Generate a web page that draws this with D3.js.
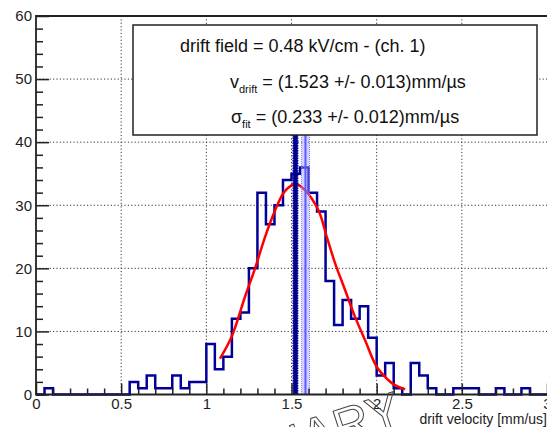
<!DOCTYPE html>
<html>
<head>
<meta charset="utf-8">
<script src="https://cdn.jsdelivr.net/npm/d3@7"></script>
<style>
  body { margin:0; background:#fff; }
  svg { display:block; font-family:"Liberation Sans", Arial, Helvetica, sans-serif; }
</style>
</head>
<body>
<div id="chart"></div>
<script>
// histogram of drift velocities, 0.05 mm/us bins starting at 0
var binStart = 0
var binWidth = 0.05
var counts = [0, 1, 0, 0, 0, 0, 0, 0, 0, 0,
              0, 2, 1, 3, 1, 1, 3, 1, 2, 2,
              8, 4, 6, 12, 13, 20, 32, 27, 30, 34,
              35, 36, 32, 29, 18, 11, 15, 12, 14, 9,
              3, 5, 1, 0, 5, 3, 1, 0, 0, 1,
              1, 1, 0, 0, 1, 0, 0, 1, 0, 0]

// gaussian fit curve as drawn on the plot
var fitX = [1.08, 1.149, 1.227, 1.286, 1.345, 1.404, 1.452, 1.501, 1.523, 1.579,
            1.658, 1.707, 1.756, 1.814, 1.873, 1.932, 2.0, 2.068, 2.1, 2.167]
var fitY = [5.7, 9.2, 15.5, 20.0, 25.0, 29.2, 31.9, 33.2, 33.4, 32.4,
            29.2, 25.0, 20.8, 16.6, 12.3, 8.6, 4.4, 2.3, 1.6, 0.8]

// fitted mean and reference value (with their bands)
var vDrift = 1.523, vDriftErr = 0.013
var vRef = 1.582, vRefErr = 0.024

var xTicks = [0, 0.5, 1, 1.5, 2, 2.5, 3]
var xMinor = d3.range(0, 31).map(d => d / 10)
var yTicks = [0, 10, 20, 30, 40, 50, 60]
var yMinor = d3.range(0, 31).map(d => d * 2)

var legendTitle = 'drift field = 0.48 kV/cm - (ch. 1)'
var legendV = ' = (1.523 +/- 0.013)mm/µs'
var legendS = ' = (0.233 +/- 0.012)mm/µs'
var xTitle = 'drift velocity [mm/us]'
var stamp = 'PRELIMINARY'

var w = 547, h = 427
var x = d3.scaleLinear().domain([0, 3]).range([36, 547])
var y = d3.scaleLinear().domain([0, 60]).range([394.5, 16])

var svg = d3.select('#chart').append('svg')
    .attr('width', w)
    .attr('height', h)

var defs = svg.append('defs')
var pat = defs.append('pattern')
    .attr('id', 'hatch')
    .attr('width', 3).attr('height', 3)
    .attr('patternUnits', 'userSpaceOnUse')
pat.append('rect').attr('width', 3).attr('height', 3).attr('fill', '#000099')
pat.append('rect').attr('x', 1).attr('y', 1).attr('width', 1).attr('height', 1).attr('fill', '#9a9aff')

// dotted grid
var grid = svg.append('g')
    .attr('stroke', '#333')
    .attr('stroke-width', 1)
    .attr('stroke-dasharray', '1.2,2.2')
grid.selectAll('.gy')
    .data(yTicks.filter(d => d > 0 && d < 60))
  .enter().append('line')
    .attr('x1', x(0)).attr('x2', x(3))
    .attr('y1', d => y(d)).attr('y2', d => y(d))
grid.selectAll('.gx')
    .data(xTicks.filter(d => d > 0 && d < 3))
  .enter().append('line')
    .attr('x1', d => x(d)).attr('x2', d => x(d))
    .attr('y1', y(0)).attr('y2', y(60))

// histogram as a step outline
var pts = counts.map((c, i) => [binStart + i * binWidth, c])
pts.push([binStart + counts.length * binWidth, counts[counts.length - 1]])
var step = d3.line()
    .x(d => x(d[0]))
    .y(d => y(d[1]))
    .curve(d3.curveStepAfter)
svg.append('path')
    .datum(pts)
    .attr('fill', 'none')
    .attr('stroke', '#000099')
    .attr('stroke-width', 2.5)
    .attr('d', step)

// fit
var fit = d3.line()
    .x((d, i) => x(fitX[i]))
    .y(d => y(d))
    .curve(d3.curveCatmullRom)
svg.append('path')
    .datum(fitY)
    .attr('fill', 'none')
    .attr('stroke', '#ff0000')
    .attr('stroke-width', 2.5)
    .attr('d', fit)

// legend box position (the vertical bands stop under it)
var box = { x:133, y:25, w:404, h:110 }

// reference band (light blue)
svg.append('rect')
    .attr('x', x(vRef - vRefErr))
    .attr('width', x(vRef + vRefErr) - x(vRef - vRefErr))
    .attr('y', box.y + box.h)
    .attr('height', y(0) - box.y - box.h)
    .attr('fill', '#9c9cff')
    .attr('fill-opacity', 0.45)
svg.selectAll('.refEdge')
    .data([vRef - vRefErr, vRef + vRefErr])
  .enter().append('line')
    .attr('x1', d => x(d)).attr('x2', d => x(d))
    .attr('y1', box.y + box.h).attr('y2', y(0))
    .attr('stroke', '#8080ff')
    .attr('stroke-width', 1)
    .attr('stroke-dasharray', '1,1')
svg.append('line')
    .attr('x1', x(vRef)).attr('x2', x(vRef))
    .attr('y1', box.y + box.h).attr('y2', y(0))
    .attr('stroke', '#5a5aff')
    .attr('stroke-width', 2)

// measured value band (dark blue)
svg.append('rect')
    .attr('x', x(vDrift - vDriftErr))
    .attr('width', x(vDrift + vDriftErr) - x(vDrift - vDriftErr))
    .attr('y', box.y + box.h)
    .attr('height', y(0) - box.y - box.h)
    .attr('fill', 'url(#hatch)')
svg.selectAll('.vEdge')
    .data([vDrift - vDriftErr, vDrift + vDriftErr])
  .enter().append('line')
    .attr('x1', d => x(d)).attr('x2', d => x(d))
    .attr('y1', box.y + box.h).attr('y2', y(0))
    .attr('stroke', '#000099')
    .attr('stroke-width', 1.5)
    .attr('stroke-dasharray', '1.5,1')
svg.append('line')
    .attr('x1', x(vDrift)).attr('x2', x(vDrift))
    .attr('y1', box.y + box.h).attr('y2', y(0))
    .attr('stroke', '#000080')
    .attr('stroke-width', 2)

// legend
svg.append('rect')
    .attr('x', box.x).attr('y', box.y)
    .attr('width', box.w).attr('height', box.h)
    .attr('fill', '#fff')
    .attr('stroke', '#222')
    .attr('stroke-width', 1.5)

var lg = svg.append('g').attr('fill', '#111').style('font-size', '18px')
lg.append('text').attr('x', 180).attr('y', 52).text(legendTitle)
var t2 = lg.append('text').attr('x', 230).attr('y', 88)
t2.append('tspan').text('v')
t2.append('tspan').attr('dy', 5).style('font-size', '11px').text('drift')
t2.append('tspan').attr('dy', -5).text(legendV)
var t3 = lg.append('text').attr('x', 231).attr('y', 123)
t3.append('tspan').text('σ')
t3.append('tspan').attr('dy', 5).style('font-size', '11px').text('fit')
t3.append('tspan').attr('dy', -5).text(legendS)

// axes: ticks point into the frame
var yAxis = svg.append('g')
    .attr('transform', 'translate(' + x(0) + ',0)')
    .call(d3.axisLeft(y).tickValues(yMinor.filter(d => d % 10 != 0 && d <= 60)).tickSizeInner(-7).tickSizeOuter(0).tickFormat(''))
var yMajor = svg.append('g')
    .attr('transform', 'translate(' + x(0) + ',0)')
    .call(d3.axisLeft(y).tickValues(yTicks).tickSizeInner(-13).tickSizeOuter(0).tickPadding(4).tickFormat(d3.format('~g')))
var xAxis = svg.append('g')
    .attr('transform', 'translate(0,' + y(0) + ')')
    .call(d3.axisBottom(x).tickValues(xMinor.filter(d => Math.round(d * 10) % 5 != 0)).tickSizeInner(-6).tickSizeOuter(0).tickFormat(''))
var xMajor = svg.append('g')
    .attr('transform', 'translate(0,' + y(0) + ')')
    .call(d3.axisBottom(x).tickValues(xTicks).tickSizeInner(-11).tickSizeOuter(0).tickPadding(4).tickFormat(d3.format('~g')))

svg.selectAll('.domain').remove()
svg.selectAll('.tick line').attr('stroke', '#222').attr('stroke-width', 1.5)
svg.selectAll('.tick text')
    .attr('fill', '#222')
    .style('font-family', '"Liberation Sans", Arial, sans-serif')
    .style('font-size', '15px')

// frame
svg.append('path')
    .attr('fill', 'none')
    .attr('stroke', '#222')
    .attr('stroke-width', 1.8)
    .attr('d', 'M' + x(3) + ',' + y(60) + 'H' + x(0) + 'V' + y(0) + 'H' + x(3))

// axis title
svg.append('text')
    .attr('x', 547).attr('y', 424)
    .attr('text-anchor', 'end')
    .attr('fill', '#222')
    .style('font-size', '14px')
    .text(xTitle)

// stamp, mostly cut off at the bottom
svg.append('text')
    .attr('transform', 'translate(405,424) rotate(-18)')
    .attr('text-anchor', 'end')
    .attr('fill', 'none')
    .attr('stroke', '#444')
    .attr('stroke-width', 1)
    .style('font-size', '50px')
    .text(stamp)
</script>
</body>
</html>
